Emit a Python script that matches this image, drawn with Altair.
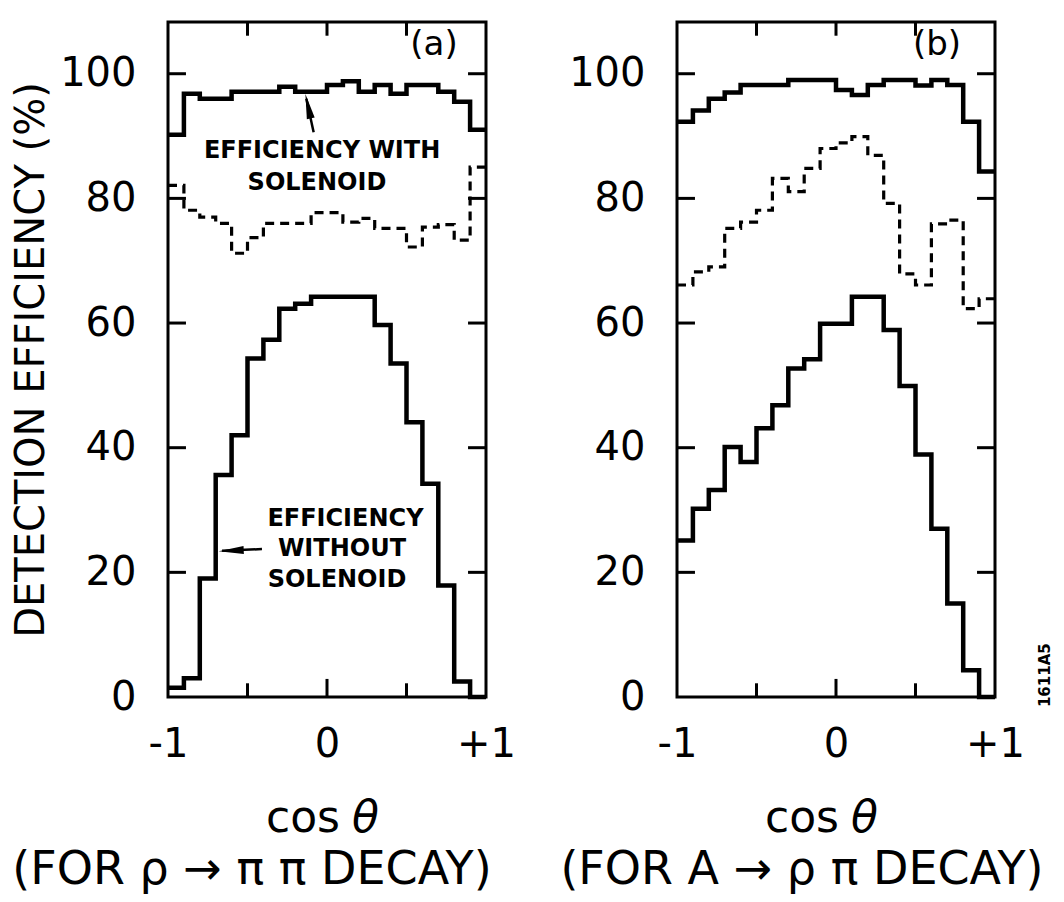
import altair as alt
import pandas as pd

# ---------------- data ----------------
COS_BINS = [-1.0, -0.9, -0.8, -0.7, -0.6, -0.5, -0.4, -0.3, -0.2, -0.1,
            0.0, 0.1, 0.2, 0.3, 0.4, 0.5, 0.6, 0.7, 0.8, 0.9]
BIN_END = 1.0

# panel (a): rho -> pi pi
A_WITH = [90.2, 96.8, 96.0, 96.0, 97.1, 97.1, 97.1, 97.9, 97.1, 97.1,
          98.2, 98.8, 97.1, 98.2, 96.8, 98.2, 98.2, 97.1, 95.5, 91.0]
A_DASHED = [82.1, 78.1, 77.0, 76.0, 71.2, 73.7, 76.0, 76.0, 76.0, 77.7,
            77.7, 76.2, 76.8, 75.2, 75.2, 72.2, 75.4, 75.8, 73.3, 85.0]
A_WITHOUT = [1.5, 3.0, 19.0, 35.6, 42.0, 54.3, 57.3, 62.3, 63.1, 64.2,
             64.2, 64.2, 64.2, 59.7, 53.5, 44.1, 34.2, 17.9, 2.5, 0.0]

# panel (b): A -> rho pi
B_WITH = [92.3, 94.1, 96.0, 97.0, 98.2, 98.2, 98.2, 99.0, 99.0, 99.0,
          97.4, 96.6, 98.2, 99.0, 99.0, 98.1, 99.0, 98.2, 92.3, 84.3]
B_DASHED = [66.1, 68.2, 69.0, 75.2, 76.2, 78.1, 83.2, 81.1, 84.8, 88.0,
            88.9, 89.9, 86.9, 79.2, 67.9, 66.1, 75.9, 76.5, 62.3, 63.9]
B_WITHOUT = [25.1, 30.2, 33.2, 40.1, 37.7, 43.1, 46.8, 52.7, 54.2, 59.9,
             59.9, 64.2, 64.2, 58.9, 49.9, 38.9, 27.0, 15.0, 4.3, 0.0]

Y_LABEL_VALUES = [0, 20, 40, 60, 80, 100]
Y_TICK_VALUES = [20, 40, 60, 80, 100]
X_TICK_VALUES = [-0.5, 0.0, 0.5]
X_LABEL_VALUES = [-1, 0, 1]
X_LABEL_TEXT = ["-1", "0", "+1"]

Y_TITLE = "DETECTION EFFICIENCY (%)"
PANEL_LETTERS = ["(a)", "(b)"]
SUBTITLES = ["(FOR \u03c1 \u2192 \u03c0 \u03c0 DECAY)", "(FOR A \u2192 \u03c1 \u03c0 DECAY)"]
X_TITLE_WORD = "cos"
X_TITLE_SYMBOL = "\u03b8"
NOTE_WITH = ["EFFICIENCY WITH", "SOLENOID"]
NOTE_WITHOUT = ["EFFICIENCY", "WITHOUT", "SOLENOID"]
FIGURE_ID = "1611A5"

# ---------------- styling / layout constants ----------------
FONT = "DejaVu Sans"
XMIN, XMAX = -1.0, 1.0
YMIN, YMAX = 0.0, 108.3
PANEL_W, PANEL_H = 318, 675
Y_TICK_LEN = 0.113
X_TICK_LEN = [2.2, 2.9, 2.2]
ARROW_PATH = "M0,-1L0.32,1L-0.32,1Z"

XS = alt.Scale(domain=[XMIN, XMAX], nice=False, zero=False)
YS = alt.Scale(domain=[YMIN, YMAX], nice=False, zero=False)

LABEL_EXPR = " : ".join(
    f"datum.value == {v} ? '{t}'" for v, t in zip(X_LABEL_VALUES, X_LABEL_TEXT)
) + " : ''"


def step_frame(values, name):
    xs = COS_BINS + [BIN_END]
    ys = list(values) + [values[-1]]
    return pd.DataFrame({"x": xs, "y": ys, "s": name})


def make_axes(show_y_title):
    x_axis = alt.Axis(
        values=X_LABEL_VALUES, labelExpr=LABEL_EXPR, ticks=False, domain=False,
        grid=False, labelFontSize=40, labelPadding=27, labelFlush=False,
        labelOverlap=False, labelFont=FONT, labelColor="black", title=None,
    )
    y_axis = alt.Axis(
        values=Y_LABEL_VALUES, ticks=False, domain=False, grid=False,
        labelFontSize=40, labelPadding=32, labelOverlap=False, labelFont=FONT,
        labelColor="black",
        title=Y_TITLE if show_y_title else None,
        titleFont=FONT, titleFontSize=40, titleFontWeight="normal",
        titleColor="black", titlePadding=8,
    )
    return x_axis, y_axis


def make_panel(idx, with_v, dashed_v, without_v, show_y_title, texts, arrows,
               title_x, sub_x, extra_id=None):
    x_axis, y_axis = make_axes(show_y_title)

    def X(field="x"):
        return alt.X(f"{field}:Q", scale=XS, axis=x_axis)

    def Y(field="y"):
        return alt.Y(f"{field}:Q", scale=YS, axis=y_axis)

    def text_layer(rows, size, baseline="middle", align="center", style="normal",
                   weight="normal", angle=0, dx=0):
        df = pd.DataFrame(rows, columns=["x", "y", "t"])
        return alt.Chart(df).mark_text(
            font=FONT, fontSize=size, color="black", align=align, baseline=baseline,
            fontStyle=style, fontWeight=weight, angle=angle, dx=dx,
        ).encode(x=X(), y=Y(), text="t:N")

    solid = pd.concat([step_frame(with_v, "with"), step_frame(without_v, "without")])
    solid_layer = alt.Chart(solid).mark_line(
        interpolate="step-after", color="black", strokeWidth=4.5, strokeJoin="miter"
    ).encode(x=X(), y=Y(), detail="s:N")
    dashed_layer = alt.Chart(step_frame(dashed_v, "dashed")).mark_line(
        interpolate="step-after", color="black", strokeWidth=3.2, strokeDash=[9, 6]
    ).encode(x=X(), y=Y())

    tick_rows = []
    for v in Y_TICK_VALUES:
        tick_rows.append({"x": XMIN, "x2": XMIN + Y_TICK_LEN, "y": v, "y2": v})
        tick_rows.append({"x": XMAX - Y_TICK_LEN, "x2": XMAX, "y": v, "y2": v})
    for v, L in zip(X_TICK_VALUES, X_TICK_LEN):
        tick_rows.append({"x": v, "x2": v, "y": YMIN, "y2": YMIN + L})
        tick_rows.append({"x": v, "x2": v, "y": YMAX - X_TICK_LEN[0], "y2": YMAX})
    ticks = alt.Chart(pd.DataFrame(tick_rows)).mark_rule(
        color="black", strokeWidth=3
    ).encode(x=X(), x2="x2:Q", y=Y(), y2="y2:Q")

    layers = [solid_layer, dashed_layer, ticks]
    layers.append(text_layer([texts["letter"]], 34))
    if texts.get("notes"):
        layers.append(text_layer(texts["notes"], 24, weight="bold"))
    if arrows:
        arr_df = pd.DataFrame(arrows)
        layers.append(alt.Chart(arr_df).mark_rule(color="black", strokeWidth=2.5).encode(
            x=X("tx"), x2="hx:Q", y=Y("ty"), y2="hy:Q",
        ))
        for a in arrows:
            layers.append(alt.Chart(pd.DataFrame([a])).mark_point(
                shape=ARROW_PATH, filled=True, color="black", opacity=1,
                size=625, angle=a["ang"], strokeWidth=0,
            ).encode(x=X("cx"), y=Y("cy")))
    layers.append(text_layer([(title_x, -21.7, X_TITLE_WORD)], 44,
                             baseline="alphabetic", align="right", dx=17))
    layers.append(text_layer([(title_x, -21.7, X_TITLE_SYMBOL)], 44,
                             baseline="alphabetic", align="left", style="italic", dx=29))
    layers.append(text_layer([(sub_x, -30.0, SUBTITLES[idx])], 46, baseline="alphabetic"))
    if extra_id is not None:
        layers.append(text_layer([extra_id], 15, weight="bold", angle=270))

    return alt.layer(*layers).properties(width=PANEL_W, height=PANEL_H)


panel_a = make_panel(
    0, A_WITH, A_DASHED, A_WITHOUT, True,
    texts={
        "letter": (0.673, 104.6, PANEL_LETTERS[0]),
        "notes": [(-0.031, 87.6, NOTE_WITH[0]), (-0.063, 82.5, NOTE_WITH[1]),
                  (0.116, 28.5, NOTE_WITHOUT[0]), (0.094, 23.7, NOTE_WITHOUT[1]),
                  (0.063, 18.85, NOTE_WITHOUT[2])],
    },
    arrows=[
        {"tx": -0.084, "ty": 90.6, "hx": -0.130, "hy": 96.0,
         "cx": -0.119, "cy": 94.8, "ang": 347.6},
        {"tx": -0.409, "ty": 23.74, "hx": -0.66, "hy": 23.45,
         "cx": -0.6025, "cy": 23.49, "ang": 267.4},
    ],
    title_x=-0.025, sub_x=-0.472,
)

panel_b = make_panel(
    1, B_WITH, B_DASHED, B_WITHOUT, False,
    texts={"letter": (0.635, 104.6, PANEL_LETTERS[1])},
    arrows=None,
    title_x=-0.088, sub_x=-0.214,
    extra_id=(1.314, 3.5, FIGURE_ID),
)

chart = alt.hconcat(panel_a, panel_b, spacing=191, bounds="flush").properties(
    padding={"left": 10, "top": 19, "right": 5, "bottom": 5},
    background="white",
).configure_view(stroke="black", strokeWidth=3)

chart.save("out.html", embed_options={"renderer": "svg", "actions": False})
